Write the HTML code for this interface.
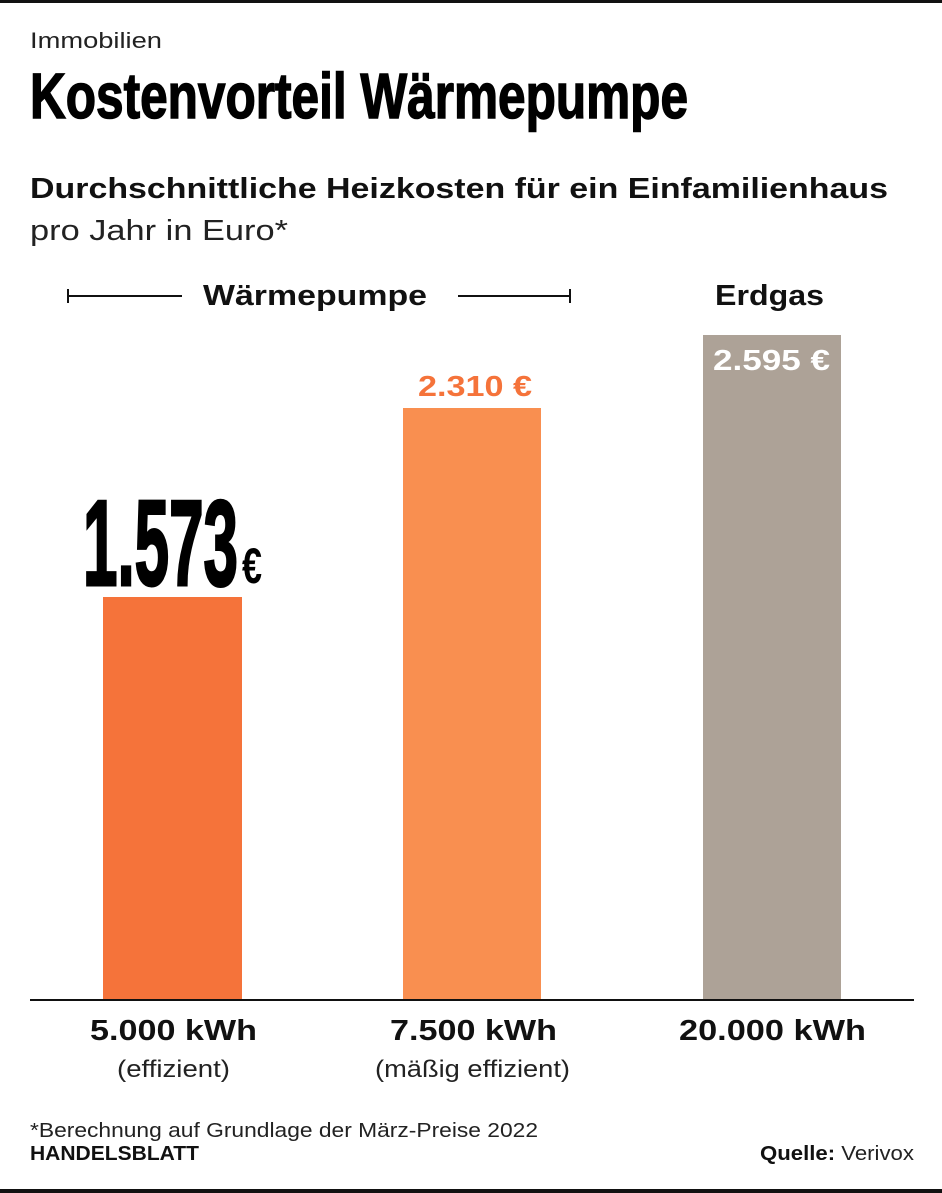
<!DOCTYPE html>
<html><head><meta charset="utf-8"><style>
html,body{margin:0;padding:0;background:#fff;}
svg{display:block;font-family:"Liberation Sans",sans-serif;}
</style></head><body>
<svg width="942" height="1193" viewBox="0 0 942 1193" xmlns="http://www.w3.org/2000/svg">
<rect x="0" y="0" width="942" height="3" fill="#111"/>
<rect x="0" y="1189" width="942" height="4" fill="#111"/>
<text x="30" y="48" font-size="22" fill="#222" textLength="132" lengthAdjust="spacingAndGlyphs">Immobilien</text>
<text x="30" y="118" font-size="64" font-weight="bold" fill="#000" stroke="#000" stroke-width="1.5" textLength="658" lengthAdjust="spacingAndGlyphs">Kostenvorteil Wärmepumpe</text>
<text x="30" y="198" font-size="29" font-weight="bold" fill="#111" textLength="858" lengthAdjust="spacingAndGlyphs">Durchschnittliche Heizkosten für ein Einfamilienhaus</text>
<text x="30" y="240" font-size="29" fill="#222" textLength="258" lengthAdjust="spacingAndGlyphs">pro Jahr in Euro*</text>
<g stroke="#111" stroke-width="2">
<line x1="68" y1="296" x2="182" y2="296"/><line x1="68" y1="289" x2="68" y2="303"/>
<line x1="458" y1="296" x2="570" y2="296"/><line x1="570" y1="289" x2="570" y2="303"/>
</g>
<text x="203" y="305" font-size="29" font-weight="bold" fill="#111" textLength="224" lengthAdjust="spacingAndGlyphs">Wärmepumpe</text>
<text x="715" y="305" font-size="29" font-weight="bold" fill="#111" textLength="109" lengthAdjust="spacingAndGlyphs">Erdgas</text>
<rect x="103" y="597" width="139" height="403" fill="#f5733a"/>
<rect x="403" y="408" width="138" height="592" fill="#f98f50"/>
<rect x="703" y="335" width="138" height="665" fill="#ada297"/>
<line x1="30" y1="1000" x2="914" y2="1000" stroke="#111" stroke-width="2"/>
<text x="83" y="585" font-size="122" font-weight="bold" fill="#000" stroke="#000" stroke-width="3" textLength="155" lengthAdjust="spacingAndGlyphs">1.573</text>
<text x="242" y="583" font-size="50" font-weight="bold" fill="#000" textLength="20" lengthAdjust="spacingAndGlyphs">€</text>
<text x="418" y="396" font-size="29" font-weight="bold" fill="#f5733a" textLength="114" lengthAdjust="spacingAndGlyphs">2.310 €</text>
<text x="713" y="370" font-size="29" font-weight="bold" fill="#fff" textLength="117" lengthAdjust="spacingAndGlyphs">2.595 €</text>
<text x="90" y="1040" font-size="29" font-weight="bold" fill="#111" textLength="167" lengthAdjust="spacingAndGlyphs">5.000 kWh</text>
<text x="117" y="1077" font-size="24" fill="#222" textLength="113" lengthAdjust="spacingAndGlyphs">(effizient)</text>
<text x="390" y="1040" font-size="29" font-weight="bold" fill="#111" textLength="167" lengthAdjust="spacingAndGlyphs">7.500 kWh</text>
<text x="375" y="1077" font-size="24" fill="#222" textLength="195" lengthAdjust="spacingAndGlyphs">(mäßig effizient)</text>
<text x="679" y="1040" font-size="29" font-weight="bold" fill="#111" textLength="187" lengthAdjust="spacingAndGlyphs">20.000 kWh</text>
<text x="30" y="1137" font-size="20" fill="#222" textLength="508" lengthAdjust="spacingAndGlyphs">*Berechnung auf Grundlage der März-Preise 2022</text>
<text x="30" y="1160" font-size="20" font-weight="bold" fill="#111" textLength="169" lengthAdjust="spacingAndGlyphs">HANDELSBLATT</text>
<text x="760" y="1160" font-size="20" fill="#222" textLength="154" lengthAdjust="spacingAndGlyphs"><tspan font-weight="bold" fill="#111">Quelle:</tspan> Verivox</text>
</svg>
</body></html>
